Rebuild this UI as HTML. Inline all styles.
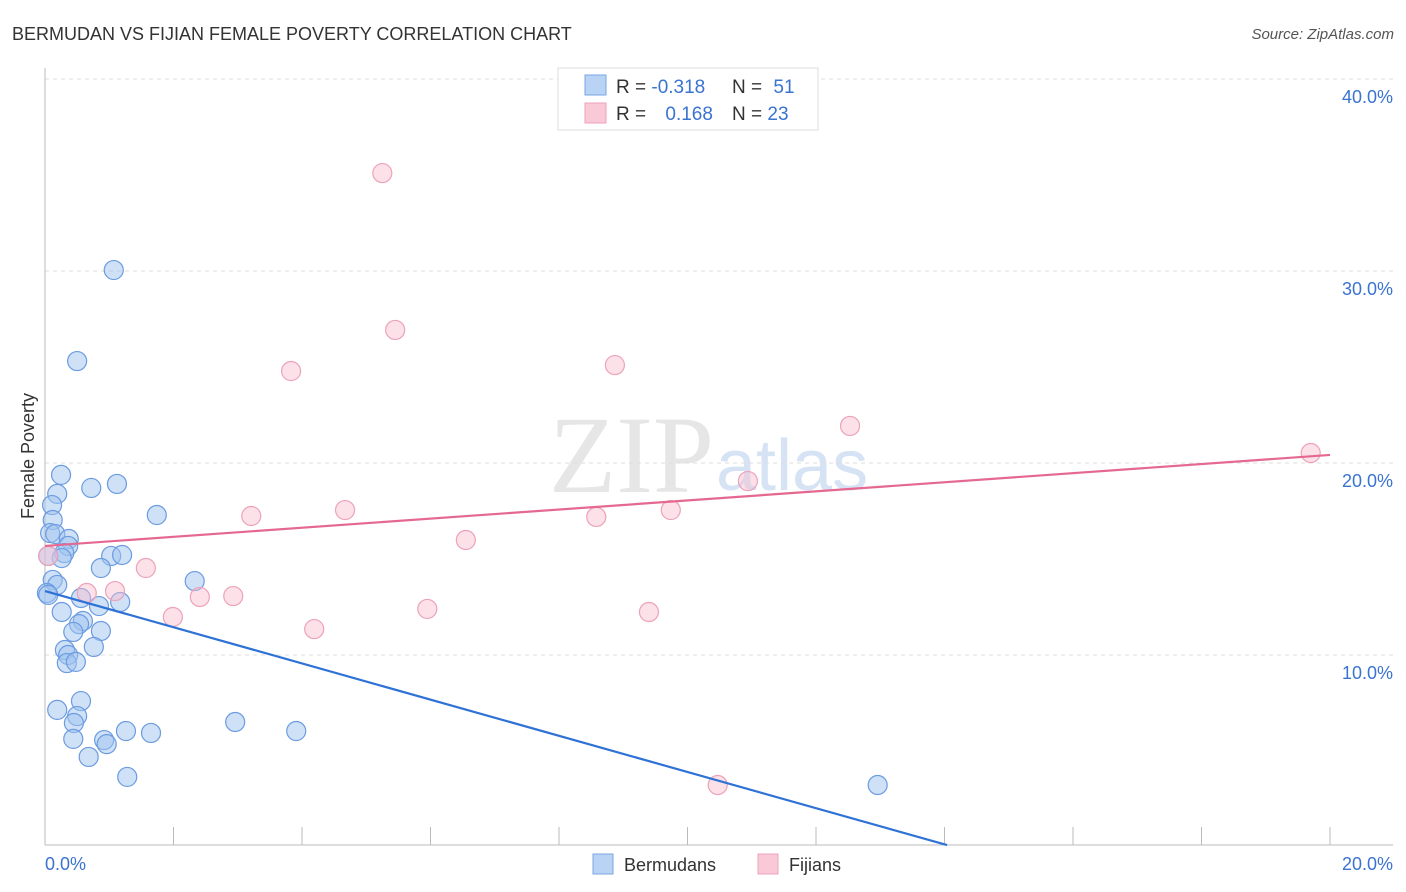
<!DOCTYPE html>
<html><head><meta charset="utf-8"><style>
body{margin:0;background:#fff;font-family:"Liberation Sans",sans-serif;}
svg{display:block}
</style></head><body>
<svg id="chart" width="1406" height="892" xmlns="http://www.w3.org/2000/svg">
<text x="12" y="40" font-size="18" fill="#333">BERMUDAN VS FIJIAN FEMALE POVERTY CORRELATION CHART</text>
<text x="1394" y="39" font-size="15" fill="#555" font-style="italic" text-anchor="end">Source: ZipAtlas.com</text>
<text x="714" y="492" font-size="110" fill="#e6e6e6" text-anchor="end" font-family="Liberation Serif">ZIP</text>
<text x="716" y="490" font-size="72" fill="#d6e3f4">atlas</text>
<g id="grid"></g>
<line x1="45" y1="68" x2="45" y2="845" stroke="#bbb"/>
<line x1="45" y1="845" x2="1393" y2="845" stroke="#bbb"/>
<g id="xticks"></g>
<text x="45" y="870" font-size="18" fill="#3a73d0">0.0%</text>
<text x="1393" y="870" font-size="18" fill="#3a73d0" text-anchor="end">20.0%</text>
<text x="34" y="456" font-size="18" fill="#333" text-anchor="middle" transform="rotate(-90 34 456)">Female Poverty</text>
<g id="pts"></g>
<g id="lines"></g>
<g>
<rect x="558" y="68" width="260" height="62" fill="#fff" stroke="#ddd"/>
<rect x="585" y="75" width="21" height="20" fill="#b9d3f5" stroke="#7aa6e3"/>
<rect x="585" y="103" width="21" height="20" fill="#fac9d7" stroke="#eca2ba"/>
<text x="616" y="93" font-size="19" fill="#333">R = <tspan fill="#3a73d0">-0.318</tspan></text>
<text x="732" y="93" font-size="19" fill="#333">N = <tspan fill="#3a73d0" dx="6">51</tspan></text>
<text x="616" y="120" font-size="19" fill="#333">R = <tspan fill="#3a73d0" dx="14">0.168</tspan></text>
<text x="732" y="120" font-size="19" fill="#333">N = <tspan fill="#3a73d0">23</tspan></text>
</g>
<rect x="593" y="854" width="20" height="20" fill="#b9d3f5" stroke="#7aa6e3"/>
<text x="624" y="871" font-size="18" fill="#333">Bermudans</text>
<rect x="758" y="854" width="20" height="20" fill="#fac9d7" stroke="#eca2ba"/>
<text x="789" y="871" font-size="18" fill="#333">Fijians</text>
</svg>
<script>
const yTicks=[10,20,30,40];
const yTickLabels=["10.0%","20.0%","30.0%","40.0%"];
const xTickVals=[0,2,4,6,8,10,12,14,16,18,20];
const blueX=[1.07,0.50,0.25,0.19,0.72,1.12,1.74,0.11,0.12,0.08,0.16,0.37,0.36,0.30,0.26,1.03,1.20,0.05,0.87,0.12,0.19,2.33,0.03,0.56,0.84,1.17,0.26,0.59,0.53,0.44,0.87,0.76,0.31,0.36,0.34,0.48,0.56,0.19,0.50,0.45,0.44,0.92,0.96,1.26,1.65,2.96,3.91,0.68,1.28,12.96,0.05];
const blueY=[30.05,25.31,19.38,18.39,18.70,18.91,17.29,17.81,17.03,16.35,16.30,16.04,15.68,15.31,15.05,15.16,15.21,15.16,14.53,13.91,13.65,13.85,13.23,12.97,12.55,12.76,12.24,11.77,11.61,11.20,11.25,10.42,10.26,10.00,9.58,9.64,7.60,7.14,6.82,6.46,5.63,5.57,5.36,6.04,5.94,6.51,6.04,4.69,3.65,3.23,13.13];
const pinkX=[5.25,5.45,3.83,8.87,12.53,19.70,10.94,3.21,4.67,8.58,9.74,6.55,0.05,1.57,0.65,1.09,2.41,2.93,1.99,4.19,5.95,9.40,10.47];
const pinkY=[35.10,26.93,24.79,25.10,21.93,20.52,19.06,17.24,17.55,17.19,17.55,15.99,15.16,14.53,13.23,13.33,13.02,13.07,11.98,11.35,12.40,12.24,3.23];
const blueLine=[[0,13.33],[14.04,0.1]];
const pinkLine=[[0,15.68],[20,20.42]];
const NS="http://www.w3.org/2000/svg";
const sx=v=>45+v/20*1285;
const sy=v=>847-v*19.2;
function mk(tag,attrs,parent){const e=document.createElementNS(NS,tag);for(const k in attrs)e.setAttribute(k,attrs[k]);parent.appendChild(e);return e;}
const grid=document.getElementById('grid');
yTicks.forEach((t,i)=>{
 const l=mk('line',{x1:45,x2:1393,y1:sy(t),y2:sy(t),stroke:'#ddd','stroke-dasharray':'4,4'},grid);
 
 
 const tx=mk('text',{x:1393,y:sy(t)+24,'font-size':18,fill:'#3a73d0','text-anchor':'end'},grid);
 tx.textContent=yTickLabels[i];
 
 
});
const xt=document.getElementById('xticks');
xTickVals.forEach(v=>{
 const l=mk('line',{x1:sx(v),x2:sx(v),y1:827,y2:845,stroke:'#bbb'},xt);
 
 
});
const pts=document.getElementById('pts');
blueX.forEach((x,i)=>{
 const c=mk('circle',{cx:sx(x),cy:sy(blueY[i]),r:9.5,fill:'rgba(160,196,240,0.5)',stroke:'#6b9be0','stroke-width':1.2},pts);
 
 
});
pinkX.forEach((x,i)=>{
 const c=mk('circle',{cx:sx(x),cy:sy(pinkY[i]),r:9.5,fill:'rgba(248,188,206,0.45)',stroke:'#eca2ba','stroke-width':1.2},pts);
 
 
});
const lines=document.getElementById('lines');
const bl=mk('line',{x1:sx(blueLine[0][0]),y1:sy(blueLine[0][1]),x2:sx(blueLine[1][0]),y2:sy(blueLine[1][1]),stroke:'#2f72d6','stroke-width':2.2},lines);


const pl=mk('line',{x1:sx(pinkLine[0][0]),y1:sy(pinkLine[0][1]),x2:sx(pinkLine[1][0]),y2:sy(pinkLine[1][1]),stroke:'#e4688f','stroke-width':2.2},lines);


</script>
</body></html>
